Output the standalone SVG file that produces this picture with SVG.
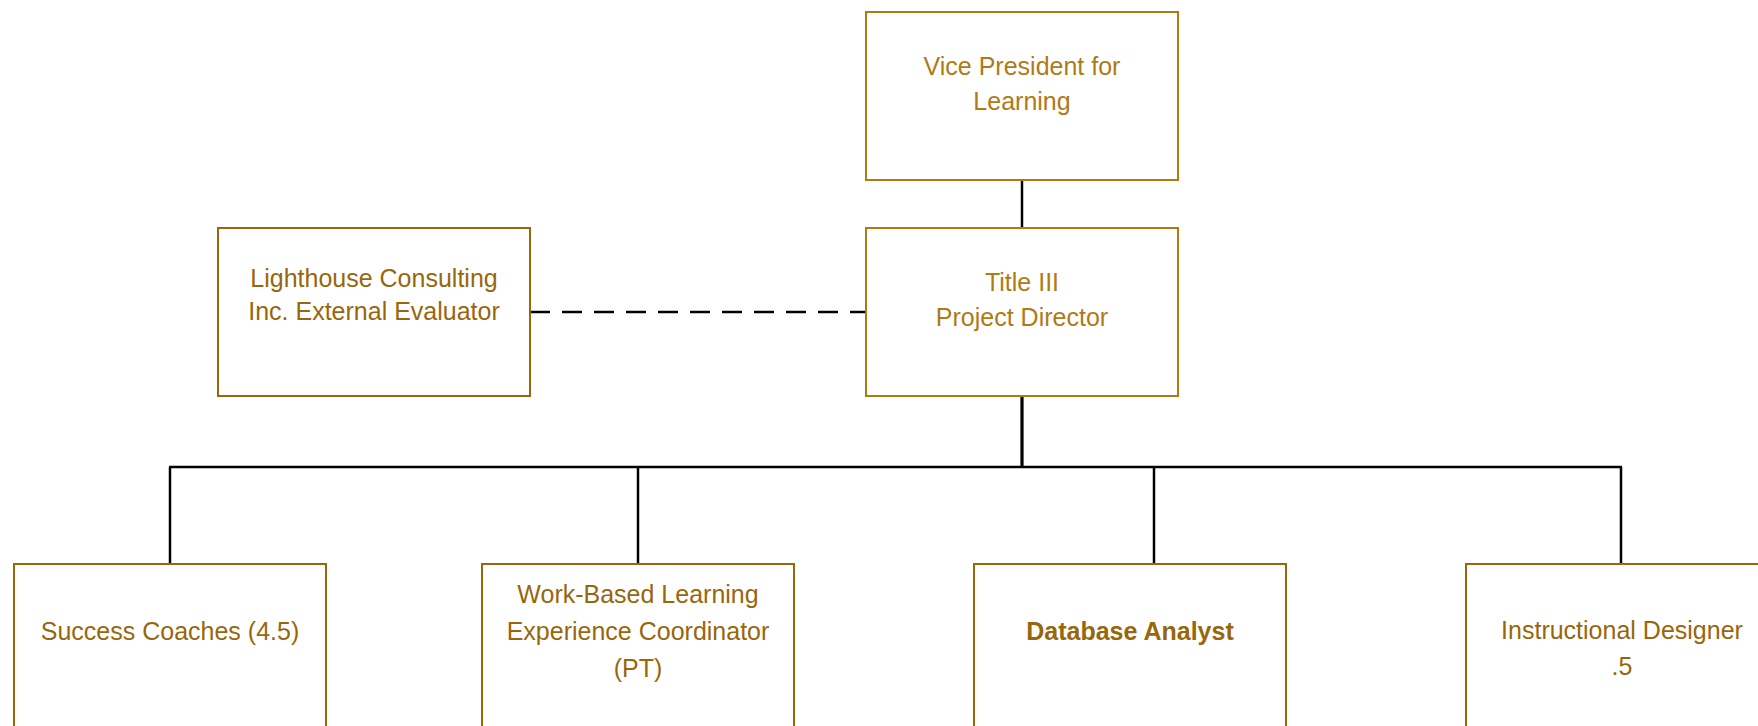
<svg xmlns="http://www.w3.org/2000/svg" width="1758" height="726" viewBox="0 0 1758 726">
<style>
.box{fill:#fff;stroke-width:2}
.top{stroke:#B07A10}
.low{stroke:#98670A}
text{font-family:"Liberation Sans",Arial,sans-serif;font-size:25px;text-anchor:middle}
.tt{fill:#B07A14}
.tl{fill:#98670C}
.b{font-weight:bold}
.ln{fill:none;stroke:#000;stroke-width:2.5}
.dash{fill:none;stroke:#000;stroke-width:2.5;stroke-dasharray:20 12}
</style>
<rect width="1758" height="726" fill="#fff"/>
<g id="connectors">
<line class="ln" x1="1022" y1="180" x2="1022" y2="228"/>
<line class="ln" x1="1022" y1="396" x2="1022" y2="467" style="stroke-width:3.2"/>
<line class="ln" x1="169" y1="467" x2="1622" y2="467"/>
<line class="ln" x1="170" y1="467" x2="170" y2="564"/>
<line class="ln" x1="638" y1="467" x2="638" y2="564"/>
<line class="ln" x1="1154" y1="467" x2="1154" y2="564"/>
<line class="ln" x1="1621" y1="467" x2="1621" y2="564"/>
<line class="dash" x1="530" y1="312" x2="866" y2="312"/>
</g>
<g id="vp">
<rect class="box top" x="866" y="12" width="312" height="168"/>
<text class="tt" x="1022" y="75">Vice President for</text>
<text class="tt" x="1022" y="110">Learning</text>
</g>
<g id="director">
<rect class="box top" x="866" y="228" width="312" height="168"/>
<text class="tt" x="1022" y="291">Title III</text>
<text class="tt" x="1022" y="326">Project Director</text>
</g>
<g id="lighthouse">
<rect class="box low" x="218" y="228" width="312" height="168"/>
<text class="tl" x="374" y="287">Lighthouse Consulting</text>
<text class="tl" x="374" y="320">Inc. External Evaluator</text>
</g>
<g id="coaches">
<rect class="box low" x="14" y="564" width="312" height="180"/>
<text class="tl" x="170" y="640">Success Coaches (4.5)</text>
</g>
<g id="wbl">
<rect class="box low" x="482" y="564" width="312" height="180"/>
<text class="tl" x="638" y="603">Work-Based Learning</text>
<text class="tl" x="638" y="640">Experience Coordinator</text>
<text class="tl" x="638" y="677">(PT)</text>
</g>
<g id="database">
<rect class="box low" x="974" y="564" width="312" height="180"/>
<text class="tl b" x="1130" y="640">Database Analyst</text>
</g>
<g id="designer">
<rect class="box low" x="1466" y="564" width="312" height="180"/>
<text class="tl" x="1622" y="639">Instructional Designer</text>
<text class="tl" x="1622" y="675">.5</text>
</g>
</svg>
